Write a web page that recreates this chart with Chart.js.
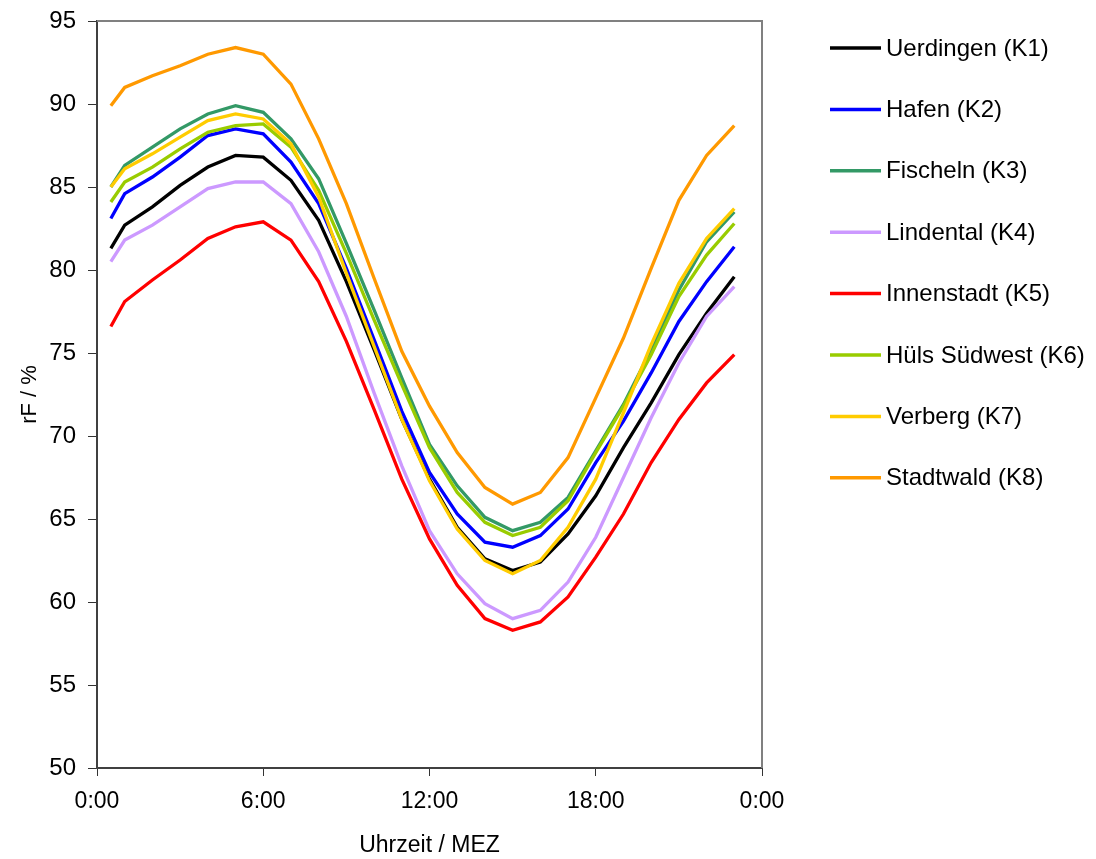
<!DOCTYPE html>
<html>
<head>
<meta charset="utf-8">
<title>rF Tagesgang</title>
<script src="https://cdn.jsdelivr.net/npm/chart.js@4.4.1/dist/chart.umd.min.js"></script>
<style>
  html, body { margin: 0; padding: 0; background: #fff; }
</style>
</head>
<body>
<canvas id="rfChart" width="1096" height="859"></canvas>
<script>
// Uhrzeit in Stunden (MEZ)
const hours = [0.5, 1, 2, 3, 4, 5, 6, 7, 8, 9, 10, 11, 12, 13, 14, 15, 16, 17, 18, 19, 20, 21, 22, 23];

// relative Feuchte rF / % je Station
const uerdingen   = [81.3, 82.7, 83.8, 85.1, 86.2, 86.9, 86.8, 85.4, 83.0, 79.3, 75.2, 71.0, 67.4, 64.5, 62.6, 61.9, 62.4, 64.1, 66.4, 69.3, 72.0, 74.9, 77.4, 79.6];
const hafen       = [83.1, 84.6, 85.6, 86.8, 88.1, 88.5, 88.2, 86.5, 84.0, 80.1, 75.8, 71.5, 67.8, 65.3, 63.6, 63.3, 64.0, 65.6, 68.4, 70.9, 73.8, 76.9, 79.3, 81.4];
const fischeln    = [85.0, 86.3, 87.4, 88.5, 89.4, 89.9, 89.5, 87.9, 85.5, 81.6, 77.6, 73.5, 69.5, 67.0, 65.1, 64.3, 64.8, 66.3, 69.1, 71.9, 75.2, 78.8, 81.7, 83.5];
const lindental   = [80.5, 81.8, 82.7, 83.8, 84.9, 85.3, 85.3, 84.0, 81.1, 77.2, 72.6, 68.2, 64.3, 61.7, 59.9, 59.0, 59.5, 61.2, 63.9, 67.5, 71.1, 74.4, 77.2, 79.0];
const innenstadt  = [76.6, 78.1, 79.4, 80.6, 81.9, 82.6, 82.9, 81.8, 79.3, 75.7, 71.6, 67.4, 63.8, 61.0, 59.0, 58.3, 58.8, 60.3, 62.7, 65.3, 68.4, 71.0, 73.2, 74.9];
const huelsSW     = [84.1, 85.3, 86.2, 87.3, 88.3, 88.7, 88.8, 87.4, 84.8, 81.0, 77.0, 73.1, 69.3, 66.6, 64.8, 64.0, 64.5, 66.1, 69.0, 71.8, 74.9, 78.4, 80.9, 82.8];
const verberg     = [85.0, 86.1, 87.0, 88.0, 89.0, 89.4, 89.1, 87.6, 84.4, 79.8, 75.4, 71.0, 67.3, 64.4, 62.5, 61.7, 62.5, 64.5, 67.4, 71.4, 75.5, 79.2, 81.9, 83.7];
const stadtwald   = [89.9, 91.0, 91.7, 92.3, 93.0, 93.4, 93.0, 91.2, 87.9, 84.0, 79.5, 75.1, 71.8, 69.0, 66.9, 65.9, 66.6, 68.7, 72.3, 75.9, 80.1, 84.2, 86.9, 88.7];

const stationNames  = ['Uerdingen (K1)', 'Hafen (K2)', 'Fischeln (K3)', 'Lindental (K4)', 'Innenstadt (K5)', 'Hüls Südwest (K6)', 'Verberg (K7)', 'Stadtwald (K8)'];
const stationValues = [uerdingen, hafen, fischeln, lindental, innenstadt, huelsSW, verberg, stadtwald];
const stationColors = ['#000000', '#0000ff', '#339966', '#cc99ff', '#ff0000', '#99cc00', '#ffcc00', '#ff9900'];

const xTickLabels = ['0:00', '6:00', '12:00', '18:00', '0:00'];

const FONT = '"Liberation Sans", Arial, sans-serif';

/** legend on the right, drawn like the original (line sample + text) */
const sideLegend = {
  id: 'sideLegend',
  afterDraw(chart) {
    const ctx = chart.ctx;
    ctx.save();
    ctx.font = '24px ' + FONT;
    ctx.textBaseline = 'middle';
    ctx.textAlign = 'left';
    stationNames.forEach(function (name, i) {
      const y = 48 + i * 61.4;
      ctx.strokeStyle = stationColors[i];
      ctx.lineWidth = 3.5;
      ctx.beginPath();
      ctx.moveTo(830, y);
      ctx.lineTo(881, y);
      ctx.stroke();
      ctx.fillStyle = '#000';
      ctx.fillText(name, 886, y + 1);
    });
    ctx.restore();
  }
};

/** grey frame on top and right of the plot area */
const plotFrame = {
  id: 'plotFrame',
  beforeDatasetsDraw(chart) {
    const {left, right, top, bottom} = chart.chartArea;
    const ctx = chart.ctx;
    ctx.save();
    ctx.strokeStyle = '#808080';
    ctx.lineWidth = 2;
    ctx.beginPath();
    ctx.moveTo(left, top);
    ctx.lineTo(right, top);
    ctx.lineTo(right, bottom);
    ctx.stroke();
    ctx.restore();
  }
};

document.addEventListener("DOMContentLoaded", function () {
  const ctx = document.getElementById('rfChart').getContext('2d');
  new Chart(ctx, {
    type: 'line',
    data: {
      datasets: stationNames.map(function (name, i) {
        return {
          label: name,
          data: hours.map(function (h, j) { return {x: h, y: stationValues[i][j]}; }),
          borderColor: stationColors[i],
          backgroundColor: stationColors[i],
          borderWidth: 3.3,
          pointRadius: 0,
          tension: 0,
          fill: false,
          order: stationNames.length - i
        };
      })
    },
    options: {
      responsive: false,
      animation: false,
      devicePixelRatio: 1,
      layout: { padding: { top: 21, right: 334, left: 0, bottom: 0 } },
      plugins: {
        legend: { display: false },
        tooltip: { enabled: false }
      },
      scales: {
        x: {
          type: 'linear',
          min: 0,
          max: 24,
          afterFit: function (scale) { scale.height = 91; },
          ticks: {
            stepSize: 6,
            padding: 12,
            maxRotation: 0,
            color: '#000',
            font: { family: FONT, size: 23 },
            callback: function (value, index) { return xTickLabels[index]; }
          },
          grid: { drawOnChartArea: false, drawTicks: true, tickLength: 8, color: '#333' },
          border: { display: true, color: '#404040', width: 2 },
          title: {
            display: true,
            text: 'Uhrzeit / MEZ',
            color: '#000',
            font: { family: FONT, size: 23 },
            padding: { top: 0, bottom: 0 }
          }
        },
        y: {
          min: 50,
          max: 95,
          afterFit: function (scale) { scale.width = 97; },
          ticks: {
            stepSize: 5,
            padding: 12,
            color: '#000',
            font: { family: FONT, size: 24, lineHeight: 0.6 }
          },
          grid: { drawOnChartArea: false, drawTicks: true, tickLength: 9, color: '#333' },
          border: { display: true, color: '#404040', width: 2 },
          title: {
            display: true,
            text: 'rF / %',
            color: '#000',
            font: { family: FONT, size: 22 },
            padding: { top: 17, bottom: 0 }
          }
        }
      }
    },
    plugins: [plotFrame, sideLegend]
  });
});
</script>
</body>
</html>
